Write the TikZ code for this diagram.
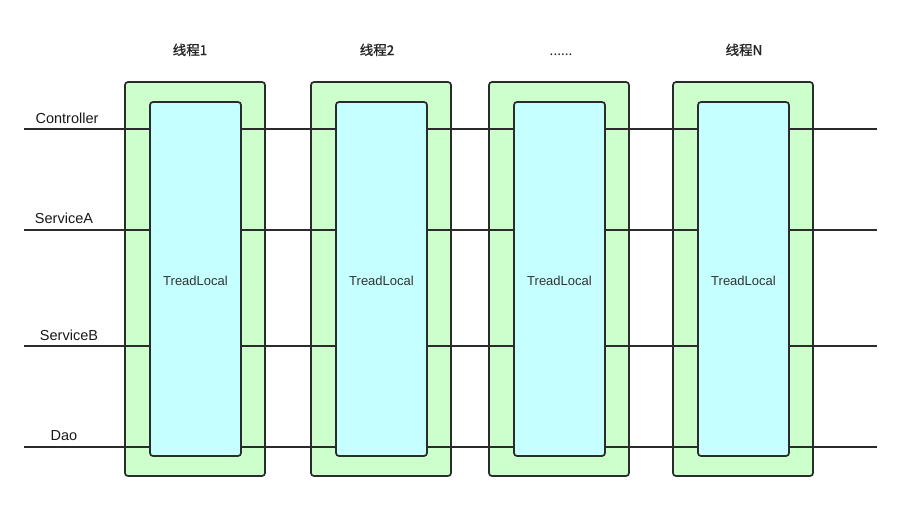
\documentclass[tikz,border=0pt]{standalone}
\usepackage{fontspec}
\setmainfont{Liberation Sans}
\newfontfamily\cjk{Noto Sans CJK SC}
\newfontfamily\cjkmed[FakeBold=1.2]{Noto Sans CJK SC}
\definecolor{outerfill}{HTML}{CCFFCC}
\definecolor{innerfill}{HTML}{C6FFFF}
\definecolor{edge}{HTML}{2B2B2B}
\begin{document}
\begin{tikzpicture}[x=1pt,y=-1pt,
  outerbox/.style={draw=edge,fill=outerfill,line width=1.7pt,rounded corners=3pt},
  innerbox/.style={draw=edge,fill=innerfill,line width=1.7pt,rounded corners=3pt},
  layer/.style={draw=edge,line width=1.7pt},
  lbl/.style={font=\fontsize{14.5}{16}\selectfont,anchor=base,text=black!90},
  ttl/.style={font=\cjkmed\fontsize{13.5}{16}\selectfont,anchor=base,text=black!85}]
\useasboundingbox (0,0) rectangle (905,509);
\fill[white] (0,0) rectangle (905,509);
% outer thread boxes
\foreach \n/\x in {1/125,2/311,3/489,4/673}{
  \path[outerbox] (\x,82) rectangle (\x+140,476);
  \coordinate (o\n) at (\x+70,82);
}
% titles
\node[ttl] (t1) at (190,55) {线程1};
\node[ttl] (t2) at (377,55) {线程2};
\node[ttl,font=\cjk\fontsize{13.5}{16}\selectfont] (t3) at (561,55) {......};
\node[ttl] (t4) at (744,55) {线程N};
% layer lines
\foreach \k/\y in {1/129,2/230,3/346,4/447}{
  \coordinate (L\k) at (24,\y);
  \coordinate (R\k) at (877,\y);
  \draw[layer] (L\k) -- (R\k);
}
% labels
\node[lbl] (c) at (67,123) {Controller};
\node[lbl] (sa) at (64,223) {ServiceA};
\node[lbl] (sb) at (69,340) {ServiceB};
\node[lbl] (d) at (64,440) {Dao};
% inner ThreadLocal boxes
\foreach \n/\x in {1/150,2/336,3/514,4/698}{
  \node[innerbox,minimum width=91pt,minimum height=354pt,inner sep=0pt] (i\n) at (\x+45.5,279) {};
  \node[font=\fontsize{13}{15}\selectfont,text=black!80,anchor=base] (tl\n) at (\x+45.5,285) {TreadLocal};
}
\end{tikzpicture}
\end{document}
